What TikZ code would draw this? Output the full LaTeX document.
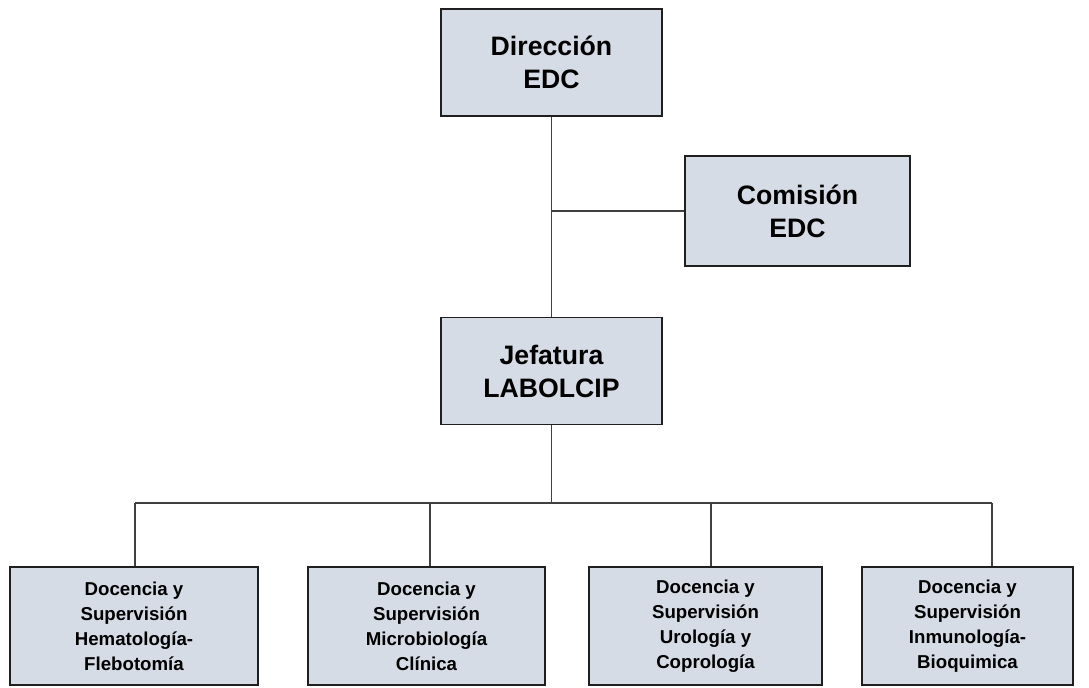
\documentclass[tikz,border=0pt]{standalone}
\usepackage{fontspec}
\setmainfont{Liberation Sans}
\usetikzlibrary{positioning}
\definecolor{boxfill}{HTML}{D6DCE5}
\definecolor{boxline}{HTML}{1F1F1F}
\definecolor{wire}{HTML}{404040}
\newcommand{\topfont}{\fontsize{20}{24.75}\selectfont\bfseries}
\newcommand{\subfont}{\fontsize{14}{18.75}\selectfont\bfseries}
\begin{document}
\begin{tikzpicture}[x=0.75pt,y=-0.75pt,node distance=150pt,
  box/.style={draw=boxline,fill=boxfill,line width=1.1pt,align=center,font=\topfont,minimum width=165.75pt,minimum height=80.25pt,inner sep=0pt},
  unit/.style={draw=boxline,fill=boxfill,line width=1.1pt,align=center,font=\subfont,minimum height=88.5pt,inner sep=0pt},
  wireline/.style={draw=wire,line width=1pt}]
\useasboundingbox (0,0) rectangle (1089,687);
\node[box](dir) at (551.5,62.5){Dirección\\EDC};
\node[box,below=of dir](jef){Jefatura\\LABOLCIP};
\node[box,minimum width=168.75pt,minimum height=82.5pt](com) at (797.5,211){Comisión\\EDC};
\node[unit,minimum width=186pt](u1) at (134,626){Docencia y\\Supervisión\\Hematología-\\Flebotomía};
\node[unit,minimum width=177.75pt](u2) at (426.5,626){Docencia y\\Supervisión\\Microbiología\\Clínica};
\node[unit,minimum width=174.75pt](u3) at (705.5,626){Docencia y\\Supervisión\\Urología y\\Coprología};
\node[unit,minimum width=158.25pt](u4) at (967.5,626){Docencia y\\Supervisión\\Inmunología-\\Bioquimica};
\coordinate (b1) at (135,503);\coordinate (b2) at (430,503);
\coordinate (b3) at (711,503);\coordinate (b4) at (992,503);
\draw[wireline](dir)--(jef);\draw[wireline](com.west)--(com.west -| dir.south);
\draw[wireline](jef.south)--(jef.south |- b1);\draw[wireline](b1)--(b4);
\draw[wireline](b1)--(b1 |- u1.north);\draw[wireline](b2)--(b2 |- u2.north);
\draw[wireline](b3)--(b3 |- u3.north);\draw[wireline](b4)--(b4 |- u4.north);
\end{tikzpicture}
\end{document}
